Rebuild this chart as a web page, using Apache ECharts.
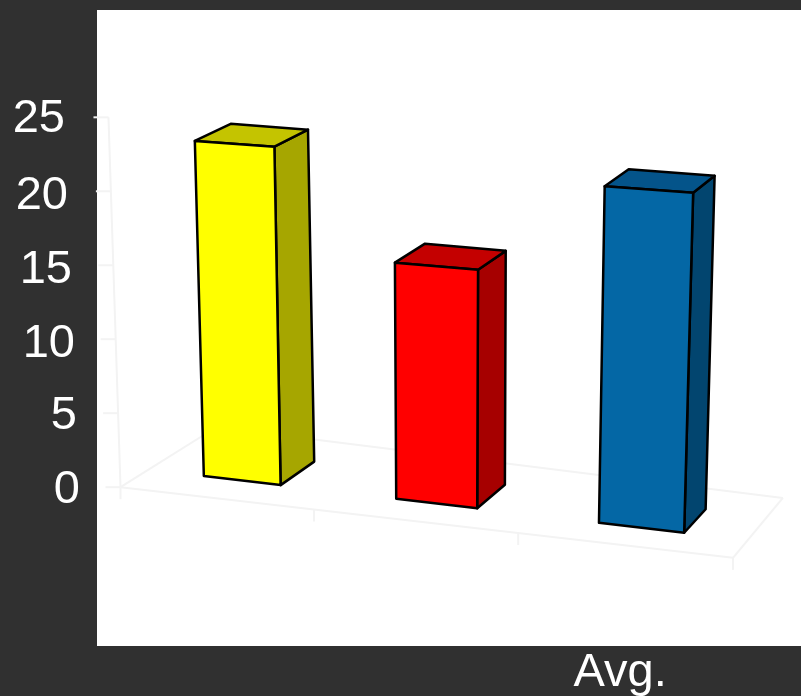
<!DOCTYPE html>
<html>
<head>
<meta charset="utf-8">
<style>html,body{margin:0;padding:0;background:#303030}#c{width:801px;height:696px}</style>
<script src="https://cdn.jsdelivr.net/npm/echarts@6/dist/echarts.min.js"></script>
</head>
<body>
<div id="c"></div>
<script>
const categories = ['', '', 'Avg.'];
const values = [22.4, 15.4, 21.4];
const tickLabels = [0, 5, 10, 15, 20, 25];
const labelShift = {0: 0, 5: 3, 10: 5, 15: 8, 20: 12, 25: 15};
const labelDrop = {0: 2, 5: 2, 10: 4, 15: 4, 20: 4, 25: 1};
const frontColors = ['#ffff00', '#ff0000', '#0467a5'];
const sideColors = ['#a6a600', '#a60000', '#02456f'];
const topColors = ['#c4c400', '#c40000', '#04548a'];

const BG = '#303030', FAINT = '#f3f3f3';

// Fixed oblique view of the plot: turns a flat pixel from the axes, plus a depth, into a screen pixel.
function project(f, flatY, baseY, d) {
  const h = baseY - flatY;
  const x0 = f + 0.00013 * Math.pow(f - 436.5, 2);
  const H = h * (1 + 0.00013 * (x0 - 121));
  const floorY = 452 + 0.118 * x0;
  const x = x0 + (x0 - 446) * 0.000111 * H + d * (42 - 0.03 * x0);
  const y = floorY - H - d * (23.5 - 0.019 * H);
  return [x, y];
}

function renderBar(params, api) {
  const i = api.value(0), v = api.value(1);
  const base = api.coord([i, 0]), top = api.coord([i, v]);
  const hw = api.size([1, 0])[0] * 0.2028;
  const L = base[0] - hw, R = base[0] + hw;
  const P = (f, y, d) => project(f, y, base[1], d);
  const stroke = {stroke: '#000', lineWidth: 2.5, lineJoin: 'round'};
  const poly = (pts, fill) => ({type: 'polygon', shape: {points: pts}, style: Object.assign({fill}, stroke)});
  return {
    type: 'group',
    children: [
      poly([P(R, top[1], 0), P(R, top[1], 1), P(R, base[1], 1), P(R, base[1], 0)], sideColors[i]),
      poly([P(L, top[1], 0), P(L, top[1], 1), P(R, top[1], 1), P(R, top[1], 0)], topColors[i]),
      poly([P(L, top[1], 0), P(R, top[1], 0), P(R, base[1], 0), P(L, base[1], 0)], frontColors[i])
    ]
  };
}

function renderFloor(params, api) {
  const size = api.size([1, 0])[0];
  const base = api.coord([0, 0]);
  const edge = u => base[0] + u * size;
  const P = (u, y, d) => project(edge(u), y, base[1], d);
  const wallY = t => base[1] - (base[1] - api.coord([0, t])[1]) * 0.982;
  const front = -0.75, back = 1.8;
  const line = (a, b) => ({type: 'line', shape: {x1: a[0], y1: a[1], x2: b[0], y2: b[1]},
    style: {stroke: FAINT, lineWidth: 2}});
  const kids = [];
  const c = [P(-0.5, base[1], front), P(2.5, base[1], front), P(2.5, base[1], back), P(-0.5, base[1], back)];
  kids.push(line(c[0], c[1]), line(c[1], c[2]), line(c[2], c[3]), line(c[3], c[0]));
  kids.push(line(c[0], P(-0.5, wallY(tickLabels[tickLabels.length - 1]), front)));
  tickLabels.forEach(t => {
    const p = P(-0.5, wallY(t), front);
    kids.push(line([p[0] - 15, p[1]], p));
  });
  [-0.5, 0.5, 1.5, 2.5].forEach(u => {
    const p = P(u, base[1], front);
    kids.push(line(p, [p[0], p[1] + 12]));
  });
  return {type: 'group', children: kids};
}

const rich = {};
tickLabels.forEach(t => {
  rich['t' + t] = {color: '#fff', fontSize: 47, fontFamily: 'Liberation Sans',
    padding: [labelDrop[t] * 2, labelShift[t], 0, 0]};
});

const chart = echarts.init(document.getElementById('c'), null, {renderer: 'canvas'});
chart.setOption({
  animation: false,
  backgroundColor: BG,
  graphic: [{type: 'rect', z: -1, silent: true, shape: {x: 97, y: 10, width: 704, height: 636},
    style: {fill: '#fff'}}],
  grid: {left: 137, top: 118, width: 599, height: 370, containLabel: false, outerBoundsMode: 'none'},
  xAxis: {
    type: 'category', data: categories,
    axisLine: {show: false}, axisTick: {show: false},
    axisLabel: {color: '#fff', fontSize: 47, fontFamily: 'Liberation Sans', interval: 0,
      margin: 162, padding: [0, 32, 0, 0]}
  },
  yAxis: {
    type: 'value', min: 0, max: 25, interval: 5,
    axisLine: {show: false}, axisTick: {show: false}, splitLine: {show: false},
    axisLabel: {margin: 57, formatter: v => '{t' + v + '|' + v + '}', rich}
  },
  series: [
    {type: 'custom', renderItem: renderFloor, data: [[0, 0]], clip: false, silent: true, z: 1},
    {type: 'custom', renderItem: renderBar,
      data: values.map((v, i) => [i, v]), clip: false, silent: true, z: 2}
  ]
});
</script>
</body>
</html>
